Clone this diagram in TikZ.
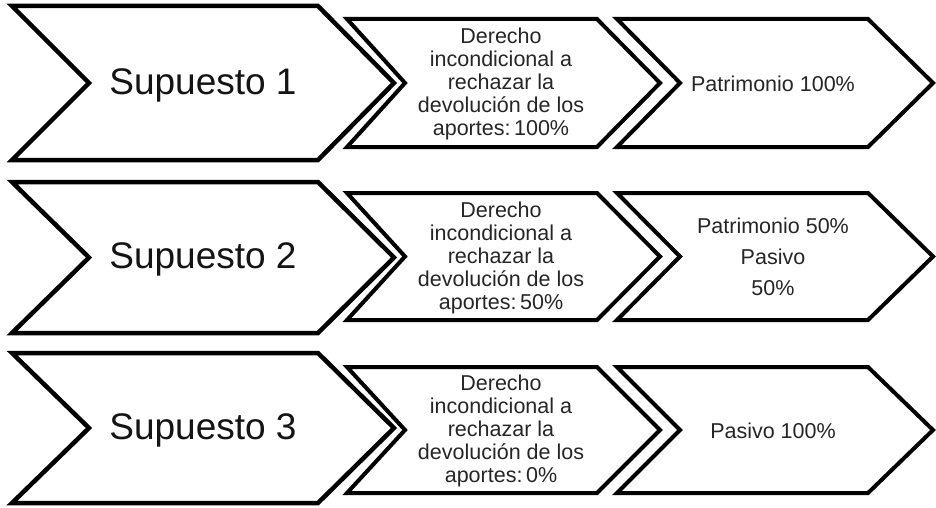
\documentclass[tikz,border=0pt]{standalone}
\usepackage{fontspec}
\setmainfont{Liberation Sans}
\newcommand\mychev[7][]{\draw[chev,#1] (#2,#6) -- (#4,#6) -- (#5,{(#6+#7)/2}) -- (#4,#7) -- (#2,#7) -- (#3,{(#6+#7)/2}) -- cycle;}
\begin{document}
\begin{tikzpicture}[x=1pt,y=-1pt,
  chev/.style={draw=black, line width=4pt, fill=white, line join=miter},
  bigchev/.style={line width=4.5pt},
  bigtxt/.style={font=\fontsize{37}{44}\selectfont, text=black!92, inner sep=0pt},
  smalltxt/.style={font=\fontsize{21.5}{23}\selectfont, align=center, text=black!85, inner sep=0pt},
  widetxt/.style={font=\fontsize{21.5}{31}\selectfont, align=center, text=black!85, inner sep=0pt}]
\useasboundingbox[fill=white] (0,0) rectangle (936,508);
% row 1
\mychev[bigchev]{12}{89}{318}{394}{6}{160}
\mychev{347}{405}{597}{660}{19}{147}
\mychev{617}{680}{868}{933}{19}{147}
% row 2
\mychev[bigchev]{12}{89}{318}{394}{182}{333}
\mychev{347}{405}{597}{660}{193}{320}
\mychev{617}{680}{868}{933}{193}{320}
% row 3
\mychev[bigchev]{12}{89}{318}{394}{353}{503}
\mychev{347}{405}{597}{660}{367}{493}
\mychev{617}{680}{868}{933}{367}{493}
% texts
\node[bigtxt] (s1) at (203,85) {Supuesto 1};
\node[bigtxt] (s2) at (203,259) {Supuesto 2};
\node[bigtxt] (s3) at (203,430) {Supuesto 3};
\node[smalltxt] (d1) at (501,84) {Derecho\\incondicional a\\rechazar la\\devolución de los\\aportes:\,100\%};
\node[smalltxt] (d2) at (501,258) {Derecho\\incondicional a\\rechazar la\\devolución de los\\aportes:\,50\%};
\node[smalltxt] (d3) at (501,431) {Derecho\\incondicional a\\rechazar la\\devolución de los\\aportes:\,0\%};
\node[smalltxt] (r1) at (773,84) {Patrimonio 100\%};
\node[widetxt] (r2) at (773,257) {Patrimonio 50\%\\Pasivo\\50\%};
\node[smalltxt] (r3) at (773,431) {Pasivo 100\%};
\end{tikzpicture}
\end{document}
